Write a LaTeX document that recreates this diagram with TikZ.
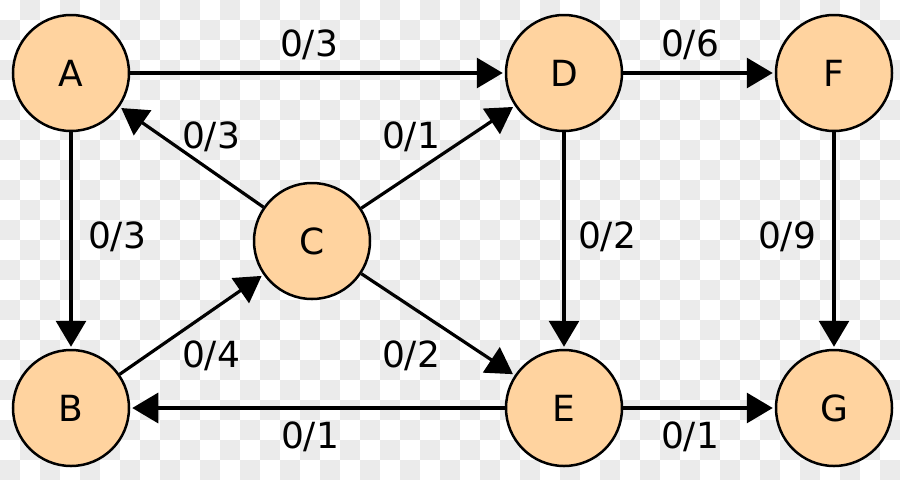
\documentclass[tikz,border=0pt]{standalone}
\usepackage{fontspec}
\setmainfont{DejaVu Sans}
\usetikzlibrary{arrows.meta}
\definecolor{nodefill}{RGB}{255,211,159}
\definecolor{checkgray}{RGB}{235,235,235}
\begin{document}
\begin{tikzpicture}[x=1pt,y=-1pt,
  vertex/.style={circle,draw=black,line width=2.5pt,fill=nodefill,minimum size=116pt,inner sep=0pt,font=\fontsize{36}{40}\selectfont},
  flow/.style={line width=3.2pt,-{Triangle[length=26pt,width=30pt]},shorten >=2pt},
  lbl/.style={font=\fontsize{36}{40}\selectfont,inner sep=0pt}]
\useasboundingbox (0,0) rectangle (900,480);
\fill[white] (0,0) rectangle (900,480);
\foreach \j in {0,...,23}{
  \foreach \i in {0,...,44}{
    \pgfmathtruncatemacro\ckpar{mod(\i+\j,2)}
    \ifnum\ckpar=1 \fill[checkgray] (\i*20,\j*20) rectangle ++(20,20);\fi
  }
}
\node[vertex] (A) at (71,73) {A};
\node[vertex] (D) at (564,73) {D};
\node[vertex] (F) at (834,73) {F};
\node[vertex] (C) at (312,241) {C};
\node[vertex] (B) at (71,408) {B};
\node[vertex] (E) at (564,408) {E};
\node[vertex] (G) at (834,408) {G};
\draw[flow] (A) -- (D);
\draw[flow] (D) -- (F);
\draw[flow] (C) -- (A);
\draw[flow] (C) -- (D);
\draw[flow] (A) -- (B);
\draw[flow] (D) -- (E);
\draw[flow] (F) -- (G);
\draw[flow] (B) -- (C);
\draw[flow] (C) -- (E);
\draw[flow] (E) -- (B);
\draw[flow] (E) -- (G);
\node[lbl] (lAD) at (309,45) {0/3};
\node[lbl] (lDF) at (690,45) {0/6};
\node[lbl] (lCA) at (211,137) {0/3};
\node[lbl] (lCD) at (411,137) {0/1};
\node[lbl] (lAB) at (117,237) {0/3};
\node[lbl] (lDE) at (607,237) {0/2};
\node[lbl] (lFG) at (787,237) {0/9};
\node[lbl] (lBC) at (211,356) {0/4};
\node[lbl] (lCE) at (411,356) {0/2};
\node[lbl] (lEB) at (310,437) {0/1};
\node[lbl] (lEG) at (690,437) {0/1};
\end{tikzpicture}
\end{document}
